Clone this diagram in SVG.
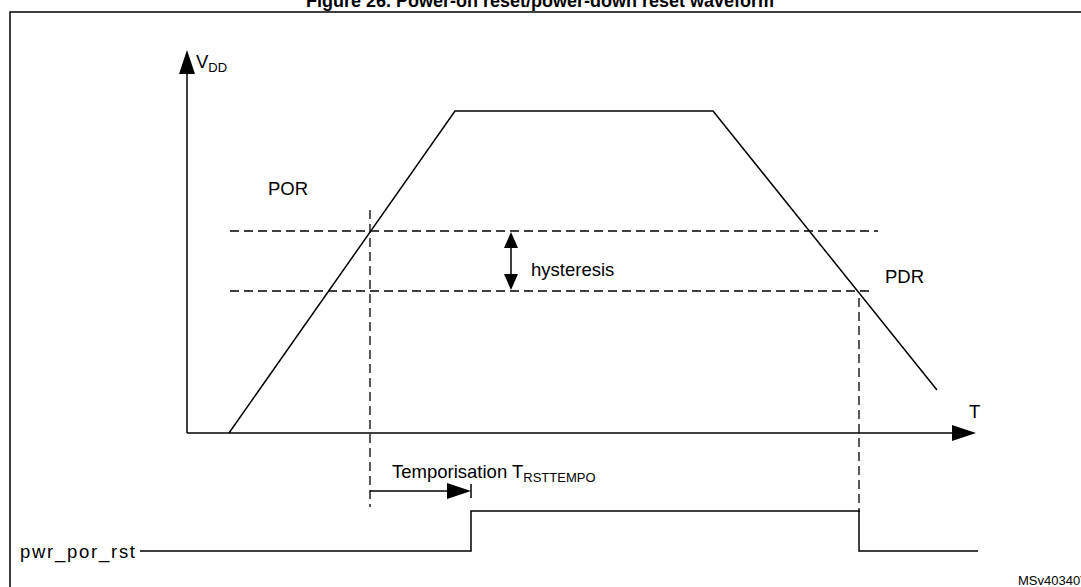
<svg xmlns="http://www.w3.org/2000/svg" width="1081" height="587" viewBox="0 0 1081 587">
<style>
.l{stroke:#000;stroke-width:1.5;fill:none}
.d{stroke:#000;stroke-width:1.3;fill:none;stroke-dasharray:9,5}
text{font-family:"Liberation Sans",Arial,sans-serif;fill:#000}
.t{font-size:18.5px}
.s{font-size:13px}
</style>
<rect width="1081" height="587" fill="#fff"/>
<text x="540" y="7" text-anchor="middle" font-weight="bold" font-size="18">Figure 26. Power-on reset/power-down reset waveform</text>
<rect x="10" y="12" width="1080" height="590" fill="none" stroke="#000" stroke-width="1.5"/>
<g id="axes">
<line class="l" x1="187" y1="433" x2="187" y2="70"/>
<path d="M179,74 L187,50 L195,74 z"/>
<line class="l" x1="187" y1="433" x2="955" y2="433"/>
<path d="M952,425 L976,433 L952,441 z"/>
<text class="t" x="196" y="68">V<tspan class="s" dy="4">DD</tspan></text>
<text class="t" x="969" y="418">T</text>
</g>
<g id="vdd">
<polyline class="l" points="229,433 455,111 713,111 937,390"/>
</g>
<g id="thresholds">
<line class="d" x1="230" y1="231" x2="878" y2="231"/>
<line class="d" x1="230" y1="291" x2="870" y2="291"/>
<line class="d" x1="370" y1="210" x2="370" y2="507"/>
<line class="d" x1="859" y1="298" x2="859" y2="512"/>
<text class="t" x="268" y="195">POR</text>
<text class="t" x="885" y="283">PDR</text>
</g>
<g id="hysteresis">
<line class="l" x1="511" y1="240" x2="511" y2="282"/>
<path d="M504,248 L511,232 L518,248 z"/>
<path d="M504,274 L511,290 L518,274 z"/>
<text class="t" x="531" y="276">hysteresis</text>
</g>
<g id="tempo">
<line class="l" x1="370" y1="491" x2="462" y2="491"/>
<path d="M447,483 L471,491 L447,499 z"/>
<line class="l" x1="471" y1="484" x2="471" y2="498"/>
<text class="t" x="392" y="478">Temporisation T<tspan class="s" dy="4">RSTTEMPO</tspan></text>
</g>
<g id="signal">
<polyline class="l" points="140,551 471,551 471,511 859,511 859,551 978,551"/>
<text class="t" x="20" y="558" textLength="115">pwr_por_rst</text>
</g>
<text x="1018" y="585" font-size="13">MSv40340V2</text>
</svg>
